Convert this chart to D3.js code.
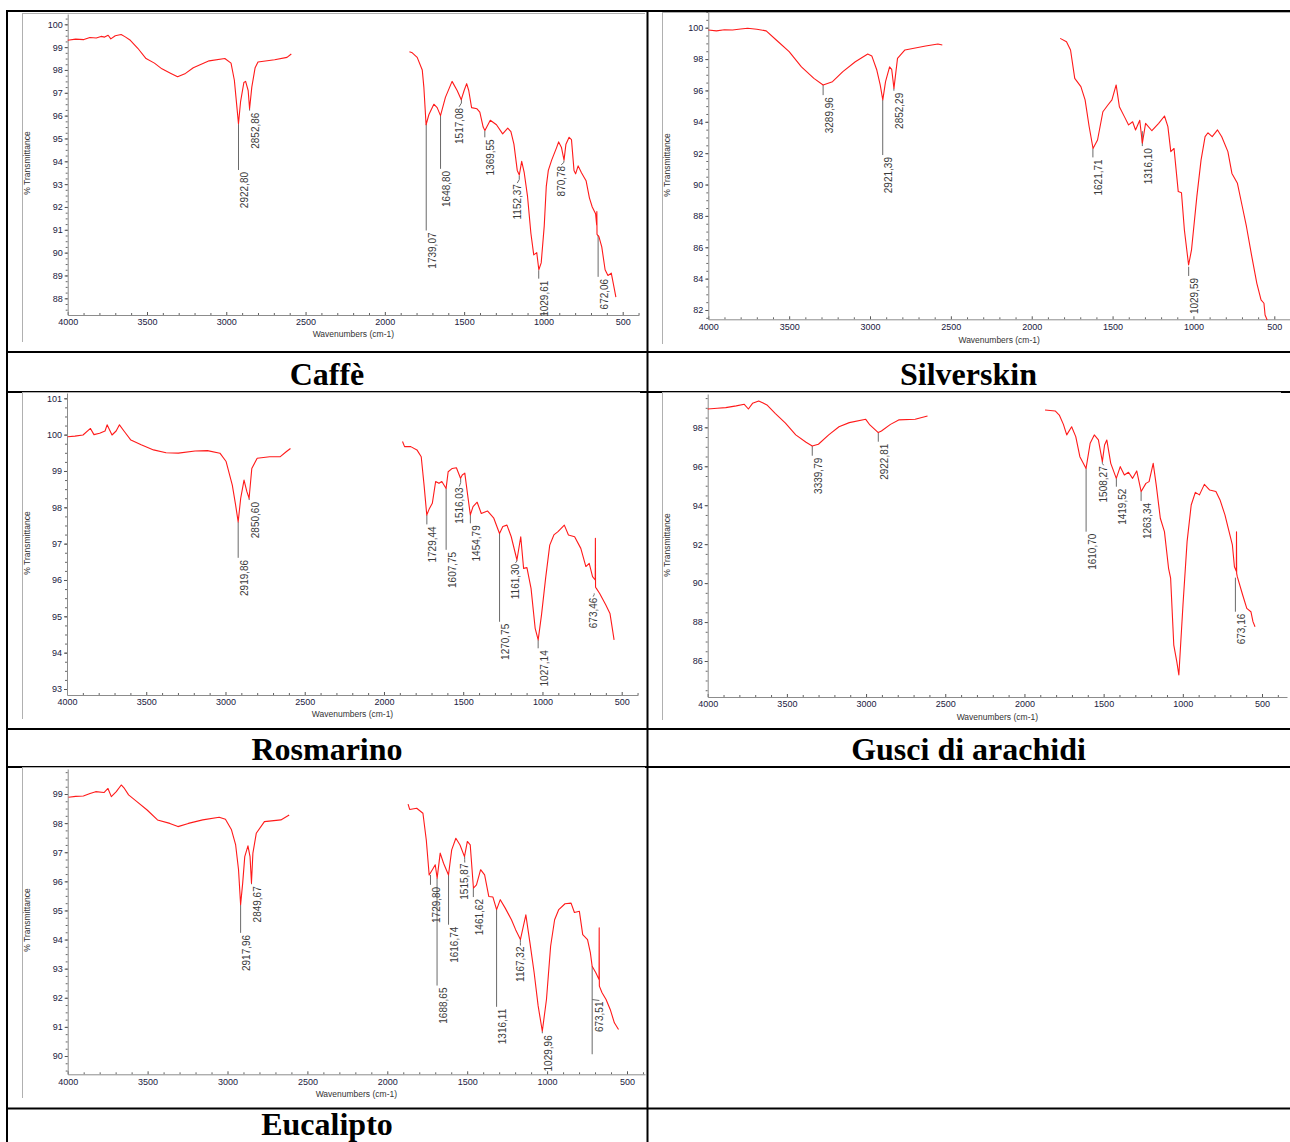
<!DOCTYPE html>
<html><head><meta charset="utf-8">
<script src="https://cdn.jsdelivr.net/npm/d3@7"></script>
<style>body{margin:0;background:#fff}svg{display:block}</style>
</head><body><svg id="c" width="1290" height="1142"></svg>
<script>
// ---------------- DATA ----------------
const wavenumberTicks = [4000,3500,3000,2500,2000,1500,1000,500];
const caffeYTicks = [100,99,98,97,96,95,94,93,92,91,90,89,88];
const silverskinYTicks = [100,98,96,94,92,90,88,86,84,82];
const rosmarinoYTicks = [101,100,99,98,97,96,95,94,93];
const gusciYTicks = [98,96,94,92,90,88,86];
const eucaliptoYTicks = [99,98,97,96,95,94,93,92,91,90];
const captions = ["Caffè","Silverskin","Rosmarino","Gusci di arachidi","Eucalipto"];

// [wavenumber, %T]; null = gap in the spectrum
const caffeSpectrum = [
[4000,99.3],[3950,99.35],[3898,99.33],[3860,99.42],[3820,99.4],[3790,99.47],[3767,99.44],[3745,99.52],[3728,99.36],[3700,99.5],[3663,99.55],[3637,99.45],[3605,99.3],[3558,98.95],[3506,98.5],[3453,98.3],[3406,98.05],[3349,97.85],[3307,97.7],[3257,97.85],[3208,98.1],[3108,98.4],[3009,98.5],[2970,98.3],[2949,97.55],[2923,95.65],[2910,96.6],[2889,97.45],[2878,97.5],[2862,97.1],[2853,96.3],[2839,97.25],[2818,98.1],[2800,98.35],[2695,98.45],[2617,98.55],[2590,98.7],
null,
[1845,98.8],[1827,98.75],[1796,98.55],[1764,98.0],[1754,97.25],[1740,95.6],[1722,96.05],[1691,96.5],[1670,96.35],[1649,96.0],[1618,96.8],[1576,97.5],[1544,97.1],[1518,96.7],[1500,97.1],[1484,97.4],[1471,97.1],[1453,96.35],[1419,96.3],[1401,96.15],[1380,95.5],[1369,95.35],[1335,95.8],[1296,95.6],[1257,95.2],[1225,95.45],[1205,95.3],[1186,94.75],[1165,93.6],[1152,93.4],[1137,94.0],[1121,93.5],[1100,92.45],[1079,90.85],[1061,89.9],[1042,90.0],[1029,89.25],[1014,89.55],[995,91.15],[982,92.9],[969,93.6],[948,94.05],[917,94.6],[904,94.85],[886,94.6],[870,94.05],[858,94.75],[838,95.05],[823,94.95],[807,93.6],[797,93.45],[781,93.8],[760,93.5],[731,93.15],[710,92.4],[692,92.0],[671,91.7],[664,91.2],[663,91.8],[662,90.8],[650,90.7],[632,90.25],[611,89.25],[593,89.0],[572,89.1],[551,88.35],[543,88.05]
];
const silverskinSpectrum = [
[4000,99.85],[3950,99.8],[3900,99.87],[3850,99.85],[3800,99.92],[3757,99.96],[3700,99.9],[3642,99.8],[3578,99.2],[3500,98.47],[3424,97.5],[3347,96.77],[3290,96.35],[3232,96.56],[3168,97.2],[3091,97.83],[3014,98.32],[2989,98.2],[2958,97.3],[2937,96.35],[2921,95.4],[2904,96.56],[2879,97.5],[2866,97.35],[2852,96.13],[2830,98.04],[2784,98.58],[2656,98.83],[2580,98.96],[2553,98.9],
null,
[1824,99.32],[1785,99.1],[1760,98.58],[1734,96.77],[1696,96.24],[1670,95.4],[1645,93.7],[1621,92.3],[1593,92.84],[1560,94.64],[1529,95.07],[1504,95.4],[1478,96.35],[1458,94.96],[1427,94.33],[1401,93.8],[1376,94.0],[1358,93.48],[1332,94.1],[1316,92.63],[1296,93.9],[1257,93.43],[1215,93.9],[1179,94.37],[1158,93.69],[1140,92.1],[1120,92.3],[1094,89.55],[1074,89.48],[1056,87.1],[1030,84.87],[1012,85.83],[979,89.23],[953,91.56],[928,93.05],[910,93.3],[884,93.05],[851,93.48],[825,93.05],[787,92.1],[762,90.71],[728,90.08],[698,88.6],[672,87.31],[639,85.4],[608,83.7],[582,82.64],[564,82.43],[557,81.68],[544,81.36]
];
const rosmarinoSpectrum = [
[3996,99.94],[3950,99.96],[3899,99.99],[3852,100.17],[3830,100.0],[3794,100.04],[3760,100.1],[3747,100.27],[3716,99.99],[3690,100.1],[3669,100.27],[3637,100.08],[3597,99.85],[3532,99.72],[3454,99.58],[3375,99.5],[3297,99.49],[3192,99.55],[3114,99.56],[3035,99.49],[2996,99.26],[2957,98.61],[2936,98.06],[2920,97.6],[2904,98.25],[2883,98.75],[2865,98.43],[2851,98.25],[2834,99.07],[2800,99.35],[2721,99.39],[2656,99.39],[2617,99.53],[2590,99.62],
null,
[1883,99.81],[1870,99.67],[1831,99.67],[1792,99.58],[1765,99.39],[1747,98.61],[1730,97.79],[1713,97.97],[1695,98.11],[1674,98.71],[1653,98.66],[1635,98.71],[1608,98.52],[1595,98.98],[1569,99.07],[1543,99.09],[1517,98.8],[1506,98.89],[1490,98.94],[1472,98.34],[1455,97.79],[1438,98.02],[1412,98.14],[1386,97.83],[1347,97.9],[1307,97.7],[1271,97.28],[1250,97.47],[1224,97.51],[1197,97.19],[1161,96.55],[1137,97.19],[1119,96.32],[1098,96.34],[1072,95.77],[1046,94.67],[1027,94.35],[1006,95.04],[980,96.05],[954,96.96],[928,97.24],[902,97.33],[862,97.51],[836,97.24],[797,97.19],[758,96.87],[726,96.37],[705,96.46],[684,96.09],[667,96.0],[666,97.15],[665,95.8],[660,95.77],[639,95.63],[600,95.31],[574,95.08],[548,94.35]
];
const gusciSpectrum = [
[4000,98.94],[3940,98.98],[3886,99.01],[3820,99.1],[3769,99.18],[3743,98.94],[3717,99.23],[3678,99.35],[3650,99.25],[3626,99.15],[3574,98.72],[3509,98.21],[3444,97.61],[3379,97.23],[3340,97.04],[3301,97.13],[3236,97.61],[3171,98.03],[3106,98.24],[3002,98.41],[2976,98.12],[2923,97.73],[2903,97.81],[2846,98.15],[2794,98.38],[2690,98.41],[2612,98.58],
null,
[1870,98.89],[1806,98.84],[1780,98.63],[1754,98.15],[1733,97.61],[1702,98.03],[1676,97.52],[1650,96.49],[1611,95.89],[1585,97.18],[1559,97.61],[1533,97.35],[1508,96.24],[1494,97.09],[1480,97.35],[1455,96.15],[1420,95.38],[1395,95.98],[1369,95.55],[1343,95.69],[1317,95.38],[1291,95.76],[1263,94.7],[1233,95.12],[1213,95.21],[1187,96.15],[1168,95.04],[1142,93.33],[1116,92.64],[1090,90.76],[1077,90.25],[1057,86.82],[1038,85.97],[1025,85.28],[999,88.88],[973,92.13],[947,94.01],[921,94.66],[895,94.53],[864,95.07],[830,94.78],[791,94.7],[765,94.27],[734,93.5],[713,92.81],[687,91.96],[674,90.84],[662,90.6],[661,92.64],[660,90.5],[656,90.33],[622,89.39],[596,88.7],[570,88.53],[557,88.02],[544,87.76]
];
const eucaliptoSpectrum = [
[3995,98.89],[3950,98.92],[3902,98.93],[3860,99.02],[3825,99.08],[3773,99.05],[3748,99.19],[3727,98.91],[3696,99.08],[3665,99.31],[3645,99.19],[3619,98.97],[3567,98.74],[3503,98.45],[3438,98.11],[3361,97.99],[3310,97.88],[3245,97.99],[3155,98.11],[3052,98.2],[3013,98.13],[2975,97.77],[2949,97.25],[2931,96.4],[2918,95.2],[2905,95.94],[2892,96.85],[2872,97.22],[2859,96.85],[2850,95.94],[2841,96.97],[2820,97.65],[2769,98.05],[2666,98.11],[2614,98.28],
null,
[1870,98.65],[1860,98.47],[1816,98.51],[1777,98.34],[1756,97.42],[1738,96.22],[1718,96.4],[1700,96.57],[1688,96.11],[1669,96.97],[1648,96.62],[1617,96.22],[1597,97.08],[1571,97.48],[1545,97.25],[1517,96.85],[1499,97.37],[1481,97.25],[1461,95.77],[1442,95.88],[1416,96.4],[1391,96.22],[1365,95.48],[1339,95.46],[1316,95.03],[1293,95.37],[1262,95.08],[1223,94.68],[1197,94.34],[1167,94.0],[1133,94.85],[1107,93.88],[1081,92.86],[1056,91.72],[1030,90.85],[1004,91.94],[978,93.77],[953,94.68],[927,95.03],[888,95.23],[850,95.25],[829,94.93],[798,94.97],[777,94.17],[747,94.0],[729,93.54],[718,93.08],[695,92.86],[675,92.63],[674,94.4],[673,92.4],[656,92.17],[631,91.94],[605,91.6],[579,91.14],[553,90.91]
];

// peak labels: [label, marker wavenumber, %T line top, %T line bottom, (%T label top), (label centre wavenumber, hooked labels)]
const caffePeaks = [
["2922,80",2922.8,95.63,93.62],["2852,86",2852.86,96.29,96.22],["1739,07",1739.07,95.63,90.97],
["1648,80",1648.8,96.0,93.67],["1517,08",1517.08,96.72,96.55,96.43,1532],["1369,55",1369.55,95.34,95.05],
["1152,37",1152.37,93.38,93.2,93.09,1165],["1029,61",1029.61,89.23,88.86],["870,78",870.78,94.03,93.95,93.89,888],
["672,06",655,90.76,88.94]
];
const silverskinPeaks = [
["3289,96",3289.96,96.35,95.7],["2921,39",2921.39,95.4,91.88],["2852,29",2852.29,96.13,95.98],
["1621,71",1621.71,92.3,91.73],["1316,10",1316.1,93.4,92.45],["1029,59",1029.59,84.76,84.17]
];
const rosmarinoPeaks = [
["2919,86",2919.86,97.6,96.61],["2850,60",2850.6,98.25,98.2],["1729,44",1729.44,97.79,97.53],
["1607,75",1607.75,98.52,96.83],["1516,03",1516.03,98.8,98.68,98.6,1525],["1454,79",1454.79,97.79,97.56],
["1270,75",1270.75,97.28,94.85],["1161,30",1161.3,96.55,96.52,96.5,1170],["1027,14",1027.14,94.35,94.12],
["673,46",673.46,95.63,95.6,95.57,680]
];
const gusciPeaks = [
["3339,79",3339.79,97.04,96.54],["2922,81",2922.81,97.73,97.26],["1610,70",1610.7,95.89,92.64],
["1508,27",1508.27,96.24,96.15,96.1,1500],["1419,52",1419.52,95.38,94.95],["1263,34",1263.34,94.7,94.22],
["673,16",668,90.28,88.53]
];
const eucaliptoPeaks = [
["2917,96",2917.96,95.2,94.23],["2849,67",2849.67,95.94,95.9],["1729,80",1729.8,96.22,95.88],
["1688,65",1688.65,96.11,92.42],["1616,74",1616.74,96.22,94.51],["1515,87",1515.87,96.85,96.75,96.68,1515],
["1461,62",1461.62,95.77,95.46],["1316,11",1316.11,95.03,91.69],["1167,32",1167.32,94.0,93.9,93.83,1167],
["1029,96",1029.96,90.85,90.78],["673,51",718,93.08,90.06,91.94,673]
];

// ---------------- LAYOUT ----------------
const panels = [
 {spectrum:caffeSpectrum, peaks:caffePeaks, yTicks:caffeYTicks, frame:[22,13,623,333],
  x4000:67.7, x500:622.7, xEnd:639, yRef:[100,24.3,88,298.3], yTop:14, yBottom:315, yLab:[30,163], xLabY:337, cap:[327,385]},
 {spectrum:silverskinSpectrum, peaks:silverskinPeaks, yTicks:silverskinYTicks, frame:[662,12,628,336],
  x4000:708.3, x500:1274.3, xEnd:1290, yRef:[100,27.7,82,310], yTop:12, yBottom:319.3, yLab:[670,165], xLabY:343, cap:[968.5,385]},
 {spectrum:rosmarinoSpectrum, peaks:rosmarinoPeaks, yTicks:rosmarinoYTicks, frame:[22,392,618,331],
  x4000:67, x500:621.7, xEnd:638, yRef:[101,398.3,93,689], yTop:393, yBottom:695, yLab:[30,543], xLabY:717, cap:[327,760]},
 {spectrum:gusciSpectrum, peaks:gusciPeaks, yTicks:gusciYTicks, frame:[662,392,619,332],
  x4000:707.7, x500:1262, xEnd:1287, yRef:[98,427.3,86,661], yTop:394, yBottom:697, yLab:[670,545], xLabY:720, cap:[968.5,760]},
 {spectrum:eucaliptoSpectrum, peaks:eucaliptoPeaks, yTicks:eucaliptoYTicks, frame:[22,767,623,335],
  x4000:67.7, x500:627, xEnd:645, yRef:[99,794,90,1056], yTop:769, yBottom:1074.3, yLab:[30,920], xLabY:1097, cap:[327,1135]}
];

const svg = d3.select("#c");
const FONT = "'Liberation Sans', Arial, sans-serif";

// table borders
const hLines = [11,352,392,729,767,1108.5];
const vLines = [7,647.5];
svg.append("g").selectAll("line").data(hLines).join("line")
  .attr("x1",6).attr("x2",1290).attr("y1",d=>d).attr("y2",d=>d)
  .attr("stroke","#000").attr("stroke-width",2);
svg.append("g").selectAll("line").data(vLines).join("line")
  .attr("x1",d=>d).attr("x2",d=>d).attr("y1",10).attr("y2",1142)
  .attr("stroke","#000").attr("stroke-width",2);

panels.forEach((p,i)=>{
  const g = svg.append("g");
  const [fx,fy,fw,fh] = p.frame;
  g.append("rect").attr("x",fx).attr("y",fy).attr("width",fw).attr("height",fh).attr("fill","#fff");
  g.append("line").attr("x1",fx).attr("x2",fx+fw).attr("y1",fy+0.5).attr("y2",fy+0.5).attr("stroke","#b0b0b0");
  g.append("line").attr("x1",fx+0.5).attr("x2",fx+0.5).attr("y1",fy).attr("y2",fy+fh-4).attr("stroke","#b0b0b0");

  const xb = d3.scaleLinear().domain([4000,500]).range([p.x4000,p.x500]);
  const x = d3.scaleLinear().domain([4000, xb.invert(p.xEnd)]).range([p.x4000, p.xEnd]);
  const yb = d3.scaleLinear().domain([p.yRef[2],p.yRef[0]]).range([p.yRef[3],p.yRef[1]]);
  const y = d3.scaleLinear().domain([yb.invert(p.yBottom), yb.invert(p.yTop)]).range([p.yBottom,p.yTop]);

  // minor ticks
  const xMinor = d3.range(4000, x.domain()[1], -100).filter(v=>v%500!==0);
  g.append("g").attr("transform",`translate(0,${p.yBottom})`)
    .call(d3.axisBottom(x).tickValues(xMinor).tickSize(-2).tickSizeOuter(0).tickFormat(""))
    .call(a=>a.select(".domain").remove())
    .call(a=>a.selectAll("line").attr("stroke","#666"));
  const step = p.yTicks[0]-p.yTicks[1];
  const yMinor = d3.range(p.yTicks[p.yTicks.length-1]-step, p.yTicks[0]+step+1e-9, step/4)
    .filter(v=>v>=y.domain()[0] && v<=y.domain()[1]);
  g.append("g").attr("transform",`translate(${p.x4000},0)`)
    .call(d3.axisLeft(y).tickValues(yMinor).tickSize(2).tickSizeOuter(0).tickFormat(""))
    .call(a=>a.select(".domain").remove())
    .call(a=>a.selectAll("line").attr("stroke","#666"));

  // major axes
  const xa = g.append("g").attr("transform",`translate(0,${p.yBottom})`)
    .call(d3.axisBottom(x).tickValues(wavenumberTicks).tickSize(-3).tickSizeOuter(0).tickPadding(4).tickFormat(d3.format("d")));
  const ya = g.append("g").attr("transform",`translate(${p.x4000},0)`)
    .call(d3.axisLeft(y).tickValues(p.yTicks).tickSize(3).tickSizeOuter(0).tickPadding(2).tickFormat(d3.format("d")));
  [xa,ya].forEach(a=>{
    a.select(".domain").attr("stroke","#8c8c8c");
    a.selectAll("line").attr("stroke","#555");
    a.selectAll("text").attr("font-family",FONT).attr("font-size",9).attr("fill","#202040");
  });

  g.append("text").attr("x",(p.x4000+p.xEnd)/2).attr("y",p.xLabY)
    .attr("text-anchor","middle").attr("font-family",FONT).attr("font-size",8.5).attr("fill","#333")
    .text("Wavenumbers (cm-1)");
  g.append("text").attr("transform",`translate(${p.yLab[0]},${p.yLab[1]}) rotate(-90)`)
    .attr("text-anchor","middle").attr("font-family",FONT).attr("font-size",8.5).attr("fill","#333")
    .text("% Transmittance");

  // peak marker lines and labels
  const pk = g.append("g");
  pk.selectAll("line").data(p.peaks).join("line")
    .attr("x1",d=>x(d[1])).attr("x2",d=>x(d[1]))
    .attr("y1",d=>y(d[2])).attr("y2",d=>y(d[3]))
    .attr("stroke","#6a6a6a").attr("stroke-width",1);
  pk.selectAll("path").data(p.peaks.filter(d=>d.length>5)).join("path")
    .attr("d",d=>{const t=Math.max(d[3],d[4]);return `M${x(d[1])},${y(t)}L${x(d[5])},${y(d[4])+1}`;})
    .attr("fill","none").attr("stroke","#6a6a6a").attr("stroke-width",1);
  pk.selectAll("text").data(p.peaks).join("text")
    .attr("transform",d=>{
      const lx = d.length>5 ? x(d[5]) : x(d[1])+6;
      const ly = y(d.length>4 ? d[4] : d[3]) + 2;
      return `translate(${lx},${ly}) rotate(-90)`;})
    .attr("text-anchor","end").attr("dy","0.35em")
    .attr("font-family",FONT).attr("font-size",10).attr("fill","#3a3a3a")
    .text(d=>d[0]);

  // spectrum
  const line = d3.line().defined(d=>d!==null).x(d=>x(d[0])).y(d=>y(d[1]));
  g.append("path").datum(p.spectrum).attr("d",line)
    .attr("fill","none").attr("stroke","#ff1a1a").attr("stroke-width",1.1).attr("stroke-linejoin","round");

  // caption
  svg.append("text").attr("x",p.cap[0]).attr("y",p.cap[1]).attr("text-anchor","middle")
    .attr("font-family","'Liberation Serif','Times New Roman',serif").attr("font-weight","bold")
    .attr("font-size",32).attr("fill","#000").text(captions[i]);
});
</script></body></html>
